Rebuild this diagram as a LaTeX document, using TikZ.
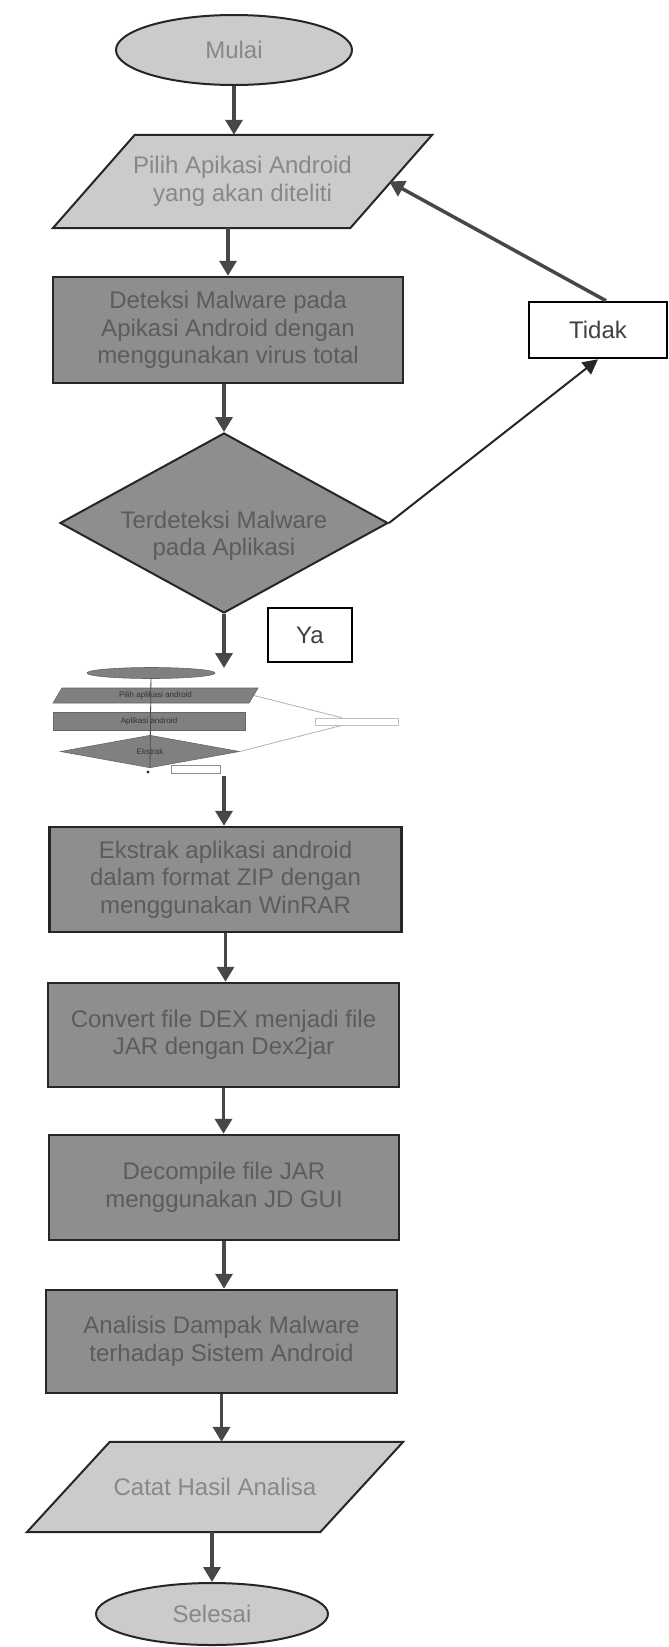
\documentclass[tikz,border=0pt]{standalone}
\usepackage{fontspec}
\setmainfont{Liberation Sans}
\usepackage{xcolor}
\usepackage{tikz}
\usetikzlibrary{arrows,arrows.meta,shapes,backgrounds}

\definecolor{boxgray}{HTML}{8E8E8E}
\definecolor{iogray}{HTML}{CBCBCB}
\definecolor{txtdark}{HTML}{5C5C5C}
\definecolor{txtlight}{HTML}{888888}
\definecolor{arrowgray}{HTML}{474747}

\begin{document}
\begin{tikzpicture}[x=1pt,y=-1pt,
        font=\fontsize{24}{27.5}\selectfont,
        terminal/.style={ellipse, draw=black!85, line width=2pt, fill=iogray, text=txtlight, inner sep=0pt},
        io/.style={rectangle, text=txtlight, align=center, inner sep=0pt},
        iobody/.style={draw=black!85, line width=2pt, fill=iogray, line join=miter},
        proses/.style={rectangle, draw=black!85, line width=2.5pt, fill=boxgray, text=txtdark, align=center, inner sep=0pt},
        keputusan/.style={diamond, draw=black!85, line width=2pt, fill=boxgray, inner sep=0pt},
        ket/.style={rectangle, draw=black, line width=2.5pt, fill=white, text=black!75, inner sep=0pt},
        arr/.style={arrowgray, line width=3.5pt, -{Triangle[width=17pt,length=15pt]}},
        arrtipis/.style={black!85, line width=2pt, -{Triangle[width=15pt,length=15pt]}},
        mini/.style={draw=black!60, line width=0.6pt, fill=black!50, text=black!80, inner sep=0pt, font=\fontsize{8}{8}\selectfont},
        minigaris/.style={black!30, line width=0.8pt}]
        \useasboundingbox (0,0) rectangle (669,1647);

        \node[terminal, minimum width=236pt, minimum height=70pt] (mulai) at (234,50) {Mulai};
        \node[io, minimum width=297pt, minimum height=93pt] (pilih) at (242.5,181.5) {Pilih Apikasi Android\\ yang akan diteliti};
        \node[proses, minimum width=350pt, minimum height=106pt] (deteksi) at (228,330) {Deteksi Malware pada\\ Apikasi Android dengan\\ menggunakan virus total};
        \node[keputusan, minimum width=328pt, minimum height=180pt] (cek) at (224,523) {};
        \node[text=txtdark, align=center] (cekteks) at ([yshift=-13pt]cek.center) {Terdeteksi Malware\\ pada Aplikasi};
        \node[ket, minimum width=138pt, minimum height=56pt] (tidak) at (598,330) {Tidak};
        \node[ket, minimum width=84pt, minimum height=54pt] (ya) at (310,635) {Ya};

        % gambar kecil
        \node[mini, ellipse, minimum width=128pt, minimum height=11pt] (m1) at (151,673) {};
        \node[mini, trapezium, trapezium left angle=40, trapezium right angle=140, trapezium stretches body, minimum width=205pt, minimum height=15pt] (m2) at (155.5,695.5) {Pilih aplikasi android};
        \node[mini, rectangle, minimum width=192pt, minimum height=18pt] (m3) at (149,721) {Aplikasi android};
        \node[mini, diamond, minimum width=179pt, minimum height=27pt] (m4) at (150,751.5) {Ekstrak};
        \node[mini, rectangle, fill=white, draw=black!45, minimum width=49pt, minimum height=8pt] (m5) at (195.5,769) {};
        \node[mini, rectangle, fill=white, draw=black!25, minimum width=83pt, minimum height=7pt] (m6) at (357,721.5) {};
        \draw[black!70, line width=0.8pt] (m1) -- (m4.south);
        \fill[black!80] (148,772) circle (1.6);
        \draw[minigaris] (m2.east) -- (m6);
        \draw[minigaris] (m4.east) -- (m6);
        \coordinate (miniin) at (224,668);
        \coordinate (miniout) at (224,776);

        \node[proses, minimum width=352pt, minimum height=105pt] (ekstrak) at (225.5,879.5) {Ekstrak aplikasi android\\ dalam format ZIP dengan\\ menggunakan WinRAR};
        \node[proses, minimum width=351pt, minimum height=104pt] (convert) at (223.5,1035) {Convert file DEX menjadi file\\ JAR dengan Dex2jar};
        \node[proses, minimum width=350pt, minimum height=105pt] (decompile) at (224,1187.5) {Decompile file JAR\\ menggunakan JD GUI};
        \node[proses, minimum width=351pt, minimum height=103pt] (analisis) at (221.5,1341.5) {Analisis Dampak Malware\\ terhadap Sistem Android};
        \node[io, minimum width=293pt, minimum height=90pt] (catat) at (215,1487) {Catat Hasil Analisa};
        \node[terminal, minimum width=232pt, minimum height=62pt] (selesai) at (212,1614) {Selesai};

        \begin{scope}[on background layer]
            \fill[white] (0,0) rectangle (669,1647);
            \filldraw[iobody] ([xshift=-41pt]pilih.south west) -- ([xshift=-41pt]pilih.south east) -- ([xshift=41pt]pilih.north east) -- ([xshift=41pt]pilih.north west) -- cycle;
            \filldraw[iobody] ([xshift=-41.5pt]catat.south west) -- ([xshift=-41.5pt]catat.south east) -- ([xshift=41.5pt]catat.north east) -- ([xshift=41.5pt]catat.north west) -- cycle;
        \end{scope}

        \draw[arr] (mulai.south) -- (mulai.south |- pilih.north);
        \draw[arr] (deteksi.north |- pilih.south) -- (deteksi.north);
        \draw[arr] (cek.north |- deteksi.south) -- (cek.north);
        \draw[arr] (cek.south) -- (miniin);
        \draw[arr] (miniout) -- (miniout |- ekstrak.north);
        \draw[arr] (ekstrak.south) -- (ekstrak.south |- convert.north);
        \draw[arr] (convert.south) -- (convert.south |- decompile.north);
        \draw[arr] (decompile.south) -- (decompile.south |- analisis.north);
        \draw[arr] (analisis.south) -- (analisis.south |- catat.north);
        \draw[arr] (selesai.north |- catat.south) -- (selesai.north);
        \draw[arr] ([xshift=8pt]tidak.north) -- ([xshift=-2pt]pilih.east);
        \draw[arrtipis] (cek.east) -- (tidak.south);
    \end{tikzpicture}
\end{document}
